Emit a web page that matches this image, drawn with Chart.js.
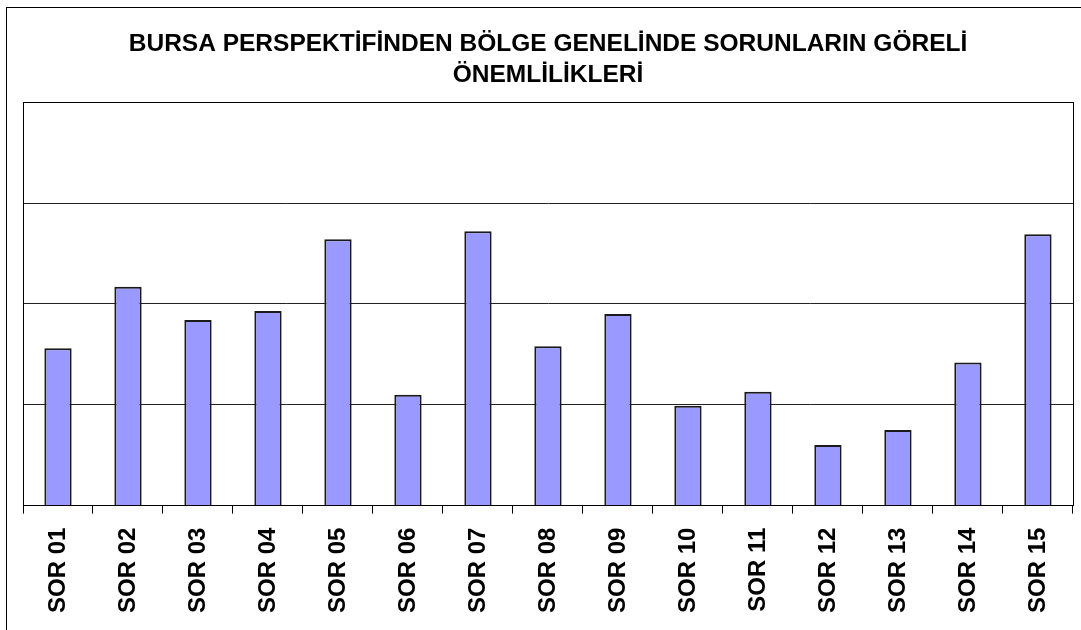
<!DOCTYPE html>
<html>
<head>
<meta charset="utf-8">
<script src="https://cdn.jsdelivr.net/npm/chart.js@4"></script>
<style>
    body { margin: 0; background: #fff; }
</style>
</head>
<body>
<canvas id="graph" width="1081" height="630"></canvas>
<script>
const categories = [
    'SOR 01', 'SOR 02', 'SOR 03', 'SOR 04', 'SOR 05',
    'SOR 06', 'SOR 07', 'SOR 08', 'SOR 09', 'SOR 10',
    'SOR 11', 'SOR 12', 'SOR 13', 'SOR 14', 'SOR 15'
];
const values = [1.56, 2.17, 1.84, 1.93, 2.64, 1.10, 2.72, 1.58, 1.90, 0.99, 1.13, 0.60, 0.75, 1.42, 2.69];
const titleLines = ['BURSA PERSPEKTİFİNDEN BÖLGE GENELİNDE SORUNLARIN GÖRELİ', 'ÖNEMLİLİKLERİ'];
const yMin = 0;
const yMax = 4;
const yStep = 1;

const police = "'Liberation Sans', Arial, sans-serif";

// Cadre extérieur + bordure de la zone de tracé
const cadres = {
    id: 'cadres',
    beforeDraw(chart) {
        const ctx = chart.ctx;
        ctx.save();
        ctx.fillStyle = '#fff';
        ctx.fillRect(0, 0, chart.width, chart.height);
        ctx.strokeStyle = '#000';
        ctx.lineWidth = 1;
        ctx.strokeRect(6.5, 7.5, 2000, 2000);
        ctx.restore();
    },
    afterDatasetsDraw(chart) {
        const a = chart.chartArea;
        const ctx = chart.ctx;
        ctx.save();
        ctx.strokeStyle = '#000';
        ctx.lineWidth = 1;
        ctx.strokeRect(Math.round(a.left) + 0.5, Math.round(a.top) + 0.5,
            Math.round(a.right - a.left), Math.round(a.bottom - a.top));
        ctx.restore();
    }
};

new Chart(document.getElementById('graph').getContext('2d'), {
    type: 'bar',
    data: {
        labels: categories,
        datasets: [{
            data: values,
            backgroundColor: '#9999FF',
            borderColor: '#1a1a1a',
            borderWidth: 2,
            barPercentage: 0.39,
            categoryPercentage: 1
        }]
    },
    options: {
        responsive: false,
        animation: false,
        layout: { padding: { left: 23, right: 8, top: 0, bottom: 3 } },
        plugins: {
            legend: { display: false },
            tooltip: { enabled: false },
            title: {
                display: true,
                text: titleLines,
                color: '#000',
                font: { family: police, size: 24.5, weight: 'bold', lineHeight: 1.29 },
                padding: { top: 28, bottom: 11 }
            }
        },
        scales: {
            x: {
                grid: { drawOnChartArea: false, drawTicks: true, tickLength: 8, color: '#000' },
                border: { color: '#000' },
                ticks: {
                    color: '#000',
                    minRotation: 90,
                    maxRotation: 90,
                    padding: 14,
                    font: { family: police, size: 24, weight: 'bold' }
                }
            },
            y: {
                min: yMin,
                max: yMax,
                ticks: { display: false, stepSize: yStep },
                grid: { color: '#222', drawTicks: false },
                border: { color: '#000' }
            }
        }
    },
    plugins: [cadres]
});
</script>
</body>
</html>
